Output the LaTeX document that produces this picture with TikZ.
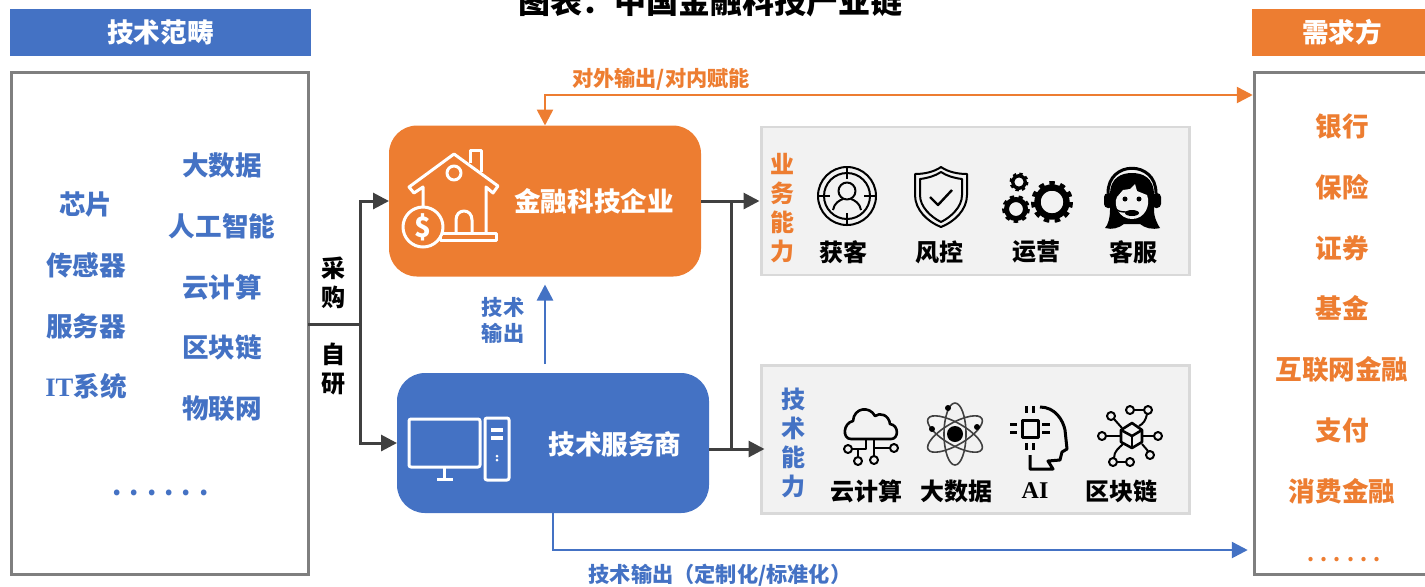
\documentclass[tikz,border=0pt]{standalone}
\usepackage{fontspec}
\setmainfont{Noto Sans CJK SC}
\newfontfamily\latinserif{Liberation Serif}
\usetikzlibrary{arrows.meta, positioning}

\definecolor{finorange}{HTML}{ED7D31}
\definecolor{techblue}{HTML}{4472C4}
\definecolor{darkline}{HTML}{404040}
\definecolor{boxline}{HTML}{7F7F7F}
\definecolor{panelgray}{HTML}{F2F2F2}
\definecolor{panelline}{HTML}{D9D9D9}

\newcommand{\dotrow}[1]{.\hspace{#1}.\hspace{#1}.\hspace{#1}.\hspace{#1}.\hspace{#1}.}

\begin{document}
\begin{tikzpicture}[x=0.5pt, y=-0.5pt, >={Triangle[length=8pt, width=8pt]}, node distance=0pt]
    \tikzstyle{header} = [rectangle, minimum width=150.5pt, minimum height=23.5pt, text=white, font=\fontsize{13.3}{15}\selectfont\bfseries, outer sep=0pt]
    \tikzstyle{listbox} = [rectangle, draw=boxline, line width=1.5pt, fill=white, minimum height=251pt, outer sep=0pt]
    \tikzstyle{firm} = [rectangle, rounded corners=14pt, minimum width=156pt, text=white, outer sep=0pt]
    \tikzstyle{panel} = [rectangle, draw=panelline, fill=panelgray, line width=1.2pt, minimum width=214pt, minimum height=74pt, outer sep=0pt]
    \tikzstyle{srcitem} = [minimum height=30.4pt, text height=12pt, text depth=1.6pt, inner sep=0pt, outer sep=0pt, text=techblue, font=\fontsize{13.3}{15}\selectfont\bfseries]
    \tikzstyle{useritem} = [srcitem, text=finorange]
    \tikzstyle{vertlabel} = [align=center, inner sep=0pt, font=\fontsize{12}{14.5}\selectfont\bfseries]
    \tikzstyle{edgelabel} = [inner sep=0pt, font=\fontsize{10.6}{13}\selectfont\bfseries]
    \tikzstyle{iconlabel} = [inner sep=0pt, font=\fontsize{12}{14}\selectfont\bfseries]
    \tikzstyle{grayline} = [draw=darkline, line width=1.5pt]
    \tikzstyle{orangeline} = [draw=finorange, line width=1.3pt]
    \tikzstyle{blueline} = [draw=techblue, line width=1.3pt]
    \tikzstyle{whiteicon} = [draw=white, line width=1.5pt, line join=round]
    \tikzstyle{blackicon} = [draw=black, line width=1pt, line join=round]

    \useasboundingbox (0,0) rectangle (1425,586);

    % Title and headers
    \node[inner sep=0pt, font=\fontsize{16}{18}\selectfont\bfseries] (charttitle) at (710,1) {图表：中国金融科技产业链};
    \node[header, fill=techblue] (srchead) at (160.5,32.5) {技术范畴};
    \node[header, fill=finorange, minimum width=90pt] (userhead) at (1342,32.5) {需求方};

    % Outer lists
    \node[listbox, minimum width=148.25pt] (source) at (160,323.5) {};
    \node[listbox, minimum width=95.25pt] (demand) at (1350,323.5) {};

    \node[srcitem] (chip) at (86,204) {芯片};
    \node[srcitem] (sensor) [below=of chip] {传感器};
    \node[srcitem] (server) [below=of sensor] {服务器};
    \node[srcitem] (itsys) [below=of server] {{\latinserif IT}系统};

    \node[srcitem] (bigdata) at (222,165) {大数据};
    \node[srcitem] (aitext) [below=of bigdata] {人工智能};
    \node[srcitem] (cloudtext) [below=of aitext] {云计算};
    \node[srcitem] (chaintext) [below=of cloudtext] {区块链};
    \node[srcitem] (iot) [below=of chaintext] {物联网};
    \node[srcitem] (srcdots) at (160.5,485) {\dotrow{4pt}};

    \node[useritem] (bank) at (1342,126) {银行};
    \node[useritem] (insure) [below=of bank] {保险};
    \node[useritem] (broker) [below=of insure] {证券};
    \node[useritem] (fund) [below=of broker] {基金};
    \node[useritem] (webfin) [below=of fund] {互联网金融};
    \node[useritem] (pay) [below=of webfin] {支付};
    \node[useritem] (consumer) [below=of pay] {消费金融};
    \node[useritem, font=\fontsize{10}{12}\selectfont\bfseries] (userdots) at (1344,551) {\dotrow{3.1pt}};

    % Middle boxes
    \node[firm, fill=finorange, minimum height=75.5pt] (fintech) at (545,201) {};
    \node[firm, fill=techblue, minimum height=70pt] (techsvc) at (553,443) {};
    \node[srcitem, text=white] (fintechtext) at (594,201) {金融科技企业};
    \node[srcitem, text=white] (techsvctext) at (615,444) {技术服务商};

    % Right panels
    \node[panel] (bizpanel) at (975.5,201) {};
    \node[panel] (techpanel) at (975.5,439.5) {};
    \node[vertlabel, text=finorange] (biztitle) at (782,208) {业\\务\\能\\力};
    \node[vertlabel, text=techblue] (techtitle) at (793,443) {技\\术\\能\\力};
    \node[iconlabel] (acquire) at (843,252) {获客};
    \node[iconlabel] (risk) [right=24pt of acquire] {风控};
    \node[iconlabel] (operate) [right=24pt of risk] {运营};
    \node[iconlabel] (service) [right=24pt of operate] {客服};
    \node[iconlabel] (cloudcap) at (866,491) {云计算};
    \node[iconlabel] (datacap) at (956,491) {大数据};
    \node[iconlabel, font=\fontsize{12}{14}\selectfont\bfseries\latinserif] (aicap) at (1035,491) {AI};
    \node[iconlabel] (chaincap) at (1121,491) {区块链};

    % Connector points
    \coordinate (split) at (360,324);
    \coordinate (merge) at (731,449);
    \coordinate (techout) at (709,449);
    \coordinate (topbend) at (545,95);
    \coordinate (bottombend) at (553,550);

    % Draw edges
    \draw[grayline] (source.east |- split) -- (split);
    \draw[grayline, ->] (split) |- (fintech.west);
    \draw[grayline, ->] (split) |- (techsvc.west);
    \draw[grayline, ->, shorten >=1pt] (fintech.east) -- (bizpanel.west);
    \draw[grayline, ->, shorten >=-1.5pt] (techout) -- (techout -| techpanel.west);
    \draw[grayline] (merge) -- (merge |- fintech.east);
    \draw[orangeline, <->, shorten >=1pt] (fintech.north) -- (topbend) -- (topbend -| demand.west);
    \draw[blueline, ->, shorten <=4.5pt, shorten >=4pt] (fintech.south |- techsvc.north) -- (fintech.south);
    \draw[blueline, ->, shorten >=3.5pt] (techsvc.south) -- (bottombend) -- (bottombend -| demand.west);

    % Edge labels
    \node[vertlabel] (buy) at (333,282.5) {采\\购};
    \node[vertlabel] (selfdev) at (333,368.5) {自\\研};
    \node[edgelabel, text=finorange] (outlabel) at (661,79) {对外输出/对内赋能};
    \node[edgelabel, text=techblue, align=center] (uplabel) at (503,320) {技术\\输出};
    \node[edgelabel, text=techblue] (customlabel) at (720,575) {技术输出（定制化/标准化）};

    % House icon
    \draw[whiteicon] (423,207) -- (423,187) -- (414,193) -- (409,187) -- (454,154) -- (498,186) -- (493,193) -- (486,187) -- (486,233);
    \draw[whiteicon] (470,163) -- (470,150) -- (481,150) -- (481,172);
    \draw[whiteicon] (454,173) circle (7);
    \draw[whiteicon] (456,233) -- (456,220) .. controls (456,208) and (472,208) .. (472,220) -- (472,233);
    \draw[whiteicon] (440,233) rectangle (496,240);
    \draw[whiteicon, fill=finorange] (423,227) circle (20);
    \node[inner sep=0pt, text=white, font=\fontsize{14}{16}\selectfont\bfseries] (coinsign) at (423,227) {\$};

    % Computer icon
    \draw[whiteicon, rounded corners=1pt] (409,419) rectangle (480,467);
    \draw[whiteicon] (444,467) -- (444,479);
    \draw[whiteicon] (437,479) -- (453,479);
    \draw[whiteicon, rounded corners=1pt] (485,418) rectangle (509,480);
    \draw[whiteicon, line width=1.7pt] (491,430) -- (503,430);
    \draw[whiteicon, line width=1.7pt] (491,438) -- (503,438);
    \fill[white] (497,456) circle (1.5);
    \fill[white] (497,460) circle (1.5);

    % Target icon
    \draw[blackicon] (847,196) circle (29);
    \draw[blackicon] (847,196) circle (23);
    \draw[blackicon] (847,166) -- (847,179);
    \draw[blackicon] (847,213) -- (847,226);
    \draw[blackicon] (817,196) -- (830,196);
    \draw[blackicon] (864,196) -- (877,196);
    \draw[blackicon] (847,191) circle (8.5);
    \draw[blackicon] (833,210) .. controls (834,203) and (840,200) .. (843,199);
    \draw[blackicon] (861,210) .. controls (860,203) and (854,200) .. (851,199);

    % Shield icon
    \draw[blackicon] (941,167) .. controls (934,172) and (924,174) .. (915,174) -- (915,195) .. controls (915,210) and (928,222) .. (941,227) .. controls (954,222) and (967,210) .. (967,195) -- (967,174) .. controls (958,174) and (948,172) .. (941,167) -- cycle;
    \draw[blackicon] (941,172) .. controls (935,176) and (928,178) .. (920,179) -- (920,195) .. controls (920,207) and (931,217) .. (941,222) .. controls (951,217) and (962,207) .. (962,195) -- (962,179) .. controls (954,178) and (947,176) .. (941,172) -- cycle;
    \draw[blackicon, line width=1.2pt] (930,197) -- (938,205) -- (952,190);

    % Gears icon
    \draw[line width=3.2pt] (1052,202) circle (14.5);
    \draw[line width=2.5pt, dash pattern=on 2.64pt off 2.64pt] (1052,202) circle (18.5);
    \draw[line width=2.5pt] (1016,209) circle (9.5);
    \draw[line width=1.8pt, dash pattern=on 2.13pt off 2.13pt] (1016,209) circle (12.2);
    \draw[line width=1.7pt] (1019,182) circle (6.2);
    \draw[line width=1.3pt, dash pattern=on 1.61pt off 1.61pt] (1019,182) circle (8.2);

    % Headset icon
    \fill[black] (1110,195) .. controls (1110,177) and (1122,173) .. (1132,173) .. controls (1142,173) and (1154,177) .. (1154,195) -- (1154,210) .. controls (1154,218) and (1158,225) .. (1160,228) .. controls (1152,230) and (1145,228) .. (1140,224) -- (1124,224) .. controls (1119,228) and (1112,230) .. (1105,228) .. controls (1108,225) and (1110,218) .. (1110,210) -- cycle;
    \fill[panelgray] (1117,197) -- (1123,190) -- (1130,189) -- (1135,184) -- (1137,191) -- (1147,195) .. controls (1151,205) and (1145,219) .. (1132,219) .. controls (1119,219) and (1113,205) .. (1117,197) -- cycle;
    \draw[line width=1.5pt] (1108,193) .. controls (1108,160) and (1156,160) .. (1156,193);
    \fill[black, rounded corners=2pt] (1104,193) rectangle (1113,208);
    \fill[black, rounded corners=2pt] (1152,193) rectangle (1161,208);
    \fill[black] (1125,199) circle (2.5);
    \fill[black] (1139,199) circle (2.5);
    \fill[black] (1132,213) ellipse (7 and 3);
    \draw[line width=0.7pt] (1113,206) .. controls (1117,212) and (1122,212) .. (1127,212);

    % Cloud icon
    \draw[blackicon, line width=1.3pt] (851,439) -- (891,439) .. controls (899,439) and (899,425) .. (890,424) .. controls (889,415) and (880,412) .. (875,416) .. controls (870,406) and (854,407) .. (853,421) .. controls (843,423) and (842,439) .. (851,439) -- cycle;
    \draw[blackicon] (866,439) -- (866,449) -- (852,449);
    \draw[blackicon] (858,449) -- (858,457);
    \draw[blackicon] (874,439) -- (874,456);
    \draw[blackicon] (874,448) -- (890,448);
    \draw[blackicon] (848,449) circle (4);
    \draw[blackicon] (858,461) circle (4);
    \draw[blackicon] (874,460) circle (4);
    \draw[blackicon] (894,448) circle (4);

    % Atom icon
    \draw[draw=darkline, line width=0.8pt] (955,434) ellipse (11 and 31);
    \draw[draw=darkline, line width=0.8pt, rotate around={60:(955,434)}] (955,434) ellipse (11 and 31);
    \draw[draw=darkline, line width=0.8pt, rotate around={-60:(955,434)}] (955,434) ellipse (11 and 31);
    \fill[black] (955,434) circle (8);
    \fill[black] (948,408) circle (3);
    \fill[black] (932,429) circle (3);
    \fill[black] (977,427) circle (3);

    % Head icon
    \draw[blackicon, line width=1.5pt] (1022,420) rectangle (1038,437);
    \draw[blackicon, line width=1.5pt] (1026,406) -- (1026,413);
    \draw[blackicon, line width=1.5pt] (1033,406) -- (1033,413);
    \draw[blackicon, line width=1.5pt] (1026,443) -- (1026,450);
    \draw[blackicon, line width=1.5pt] (1033,443) -- (1033,450);
    \draw[blackicon, line width=1.5pt] (1010,424) -- (1017,424);
    \draw[blackicon, line width=1.5pt] (1010,432) -- (1017,432);
    \draw[blackicon, line width=1.5pt] (1042,424) -- (1050,424);
    \draw[blackicon, line width=1.5pt] (1042,432) -- (1050,432);
    \draw[blackicon, line width=1.5pt] (1040,407) .. controls (1055,407) and (1063,420) .. (1065,430) -- (1067,449) -- (1062,452) -- (1060,460) -- (1048,461) -- (1053,469) -- (1030,469) -- (1030,455);

    % Blockchain icon
    \draw[blackicon, line width=1.3pt] (1132,423) -- (1142,430) -- (1142,442) -- (1132,448) -- (1121,442) -- (1121,430) -- cycle;
    \draw[blackicon, line width=1.3pt] (1121,430) -- (1132,436) -- (1142,430);
    \draw[blackicon, line width=1.3pt] (1132,436) -- (1132,448);
    \draw[blackicon] (1114,419) -- (1122,428);
    \draw[blackicon] (1134,410) -- (1144,410);
    \draw[blackicon] (1147,414) .. controls (1146,420) and (1143,424) .. (1139,426);
    \draw[blackicon] (1106,436) -- (1121,436);
    \draw[blackicon] (1142,436) -- (1154,436);
    \draw[blackicon] (1114,458) .. controls (1114,451) and (1119,448) .. (1123,444);
    \draw[blackicon] (1117,462) -- (1126,462);
    \draw[blackicon] (1142,444) -- (1148,451);
    \draw[blackicon] (1111,416) circle (4);
    \draw[blackicon] (1130,410) circle (4);
    \draw[blackicon] (1148,410) circle (4);
    \draw[blackicon] (1102,436) circle (4);
    \draw[blackicon] (1158,436) circle (4);
    \draw[blackicon] (1113,462) circle (4);
    \draw[blackicon] (1130,462) circle (4);
    \draw[blackicon] (1150,455) circle (4);
\end{tikzpicture}
\end{document}
